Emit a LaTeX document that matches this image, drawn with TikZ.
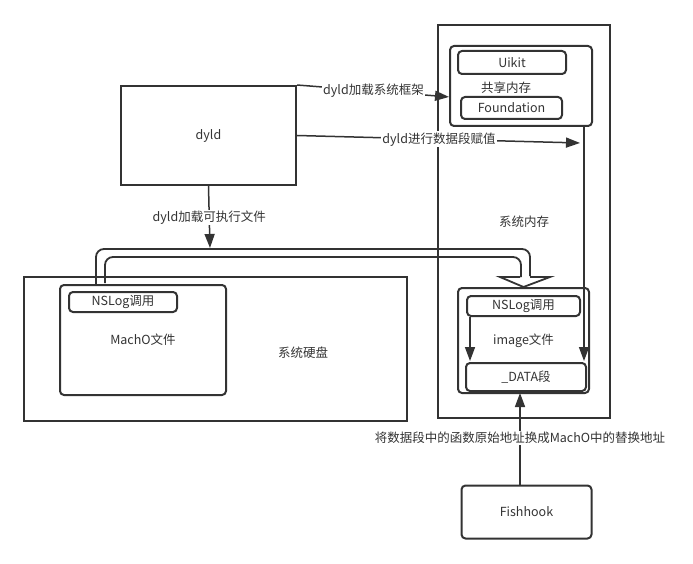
\documentclass[tikz,border=0pt]{standalone}
\usepackage{fontspec}
\setmainfont{Noto Sans CJK SC}
\usetikzlibrary{positioning, arrows.meta, calc}
\definecolor{ink}{HTML}{333333}
\tikzset{shorten >=1pt, >={Triangle[length=14pt, width=10pt]}}
\tikzset{
	box/.style={draw=ink, line width=2pt, inner sep=0pt},
	rbox/.style={box, rounded corners=4pt},
	conn/.style={draw=ink, line width=1.5pt},
	hollow/.style={draw=ink, line width=1.8pt, line join=miter},
	lbl/.style={fill=white, inner sep=1pt}
}

\begin{document}
\begin{tikzpicture}[x=1pt, y=-1pt, text=ink]
		\useasboundingbox (0,0) rectangle (693,564);
		\begin{scope}[every node/.append style={font=\fontsize{12.5}{15}\selectfont}]
			\node[box, minimum width=175pt, minimum height=99pt] (dyld) at (208.5,135.5) {dyld};
			\node[box, minimum width=172pt, minimum height=393pt] (mem) at (524,221.5) {系统内存};
			\node[rbox, minimum width=142pt, minimum height=80pt] (shared) at (521,86) {};
			\node (sharedtxt) at (506,88) {共享内存};
			\node[rbox, minimum width=108pt, minimum height=23pt] (uikit) at (512,62.5) {Uikit};
			\node[rbox, minimum width=101pt, minimum height=22pt] (found) at (511.5,108) {Foundation};
			\node[box, minimum width=383pt, minimum height=144pt] (disk) at (215.5,349) {};
			\node (disktxt) at (303,353) {系统硬盘};
			\node[rbox, minimum width=166pt, minimum height=110pt] (macho) at (143,340) {MachO文件};
			\node[rbox, minimum width=108pt, minimum height=20pt] (nslogl) at (123,302) {NSLog调用};
			\node[rbox, minimum width=131pt, minimum height=105pt] (image) at (523.5,340.5) {image文件};
			\node[rbox, minimum width=113pt, minimum height=20pt] (nslogr) at (523.5,306) {NSLog调用};
			\node[rbox, minimum width=120pt, minimum height=28pt] (data) at (526,377) {\_DATA段};
			\node[rbox, minimum width=130pt, minimum height=53pt] (fish) at (526.5,512) {Fishhook};
		\end{scope}

		\coordinate (sharedin) at (450,97);
		\coordinate (memin) at (581,143);
		\coordinate (loadtip) at (210,249);
		\coordinate (memx) at (584,0);
		\coordinate (nsx) at (470,0);
		\coordinate (fx) at (520,0);
		\path (macho.north west) ++(37,0) coordinate (ho1) ++(9,0) coordinate (hi1);

		\begin{scope}[every node/.append style={font=\fontsize{12.5}{15}\selectfont, lbl}]
			\draw [->, conn] (dyld.north east) -- (sharedin) node[midway]{dyld加载系统框架};
			\draw [->, conn] (dyld.east) -- (memin) node[midway]{dyld进行数据段赋值};
			\draw [->, conn] (dyld.south) -- (loadtip) node[midway]{dyld加载可执行文件};
			\draw [->, conn] (shared.south -| memx) -- (data.north -| memx);
			\draw [->, conn] (nslogr.south -| nsx) -- (data.north -| nsx);
			\draw [->, conn] (fish.north -| fx) -- (data.south -| fx) node[midway]{将数据段中的函数原始地址换成MachO中的替换地址};
		\end{scope}

		\draw [hollow, rounded corners=8pt] (ho1) |- (530,249) -- (530,277);
		\draw [hollow] (530,277) -- (550,277) -- (image.north) -- (500,277) -- (521,277);
		\draw [hollow, rounded corners=8pt] (521,277) -- (521,257) -| (hi1);
	\end{tikzpicture}
\end{document}
